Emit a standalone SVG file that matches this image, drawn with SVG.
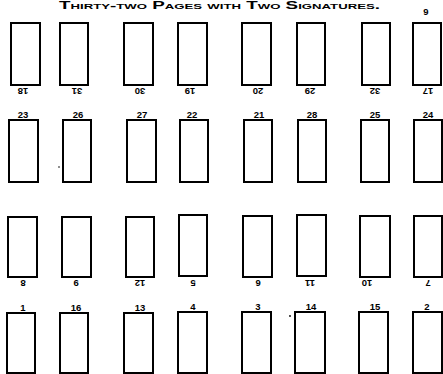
<svg xmlns="http://www.w3.org/2000/svg" width="443" height="374" viewBox="0 0 443 374">
<style>
.pg{fill:#fff;stroke:#000;stroke-width:2}
.n{font-family:"Liberation Sans",Arial,sans-serif;font-weight:bold;font-size:9.5px;text-anchor:middle;fill:#000}
.t{font-family:"Liberation Sans",Arial,sans-serif;font-weight:bold;font-size:10px;font-variant:small-caps;fill:#000}
</style>
<rect width="443" height="374" fill="#fff"/>
<text class="t" x="59" y="8.5" textLength="321" lengthAdjust="spacingAndGlyphs">Thirty-two Pages with Two Signatures.</text>
<text class="n" x="426" y="14.5">9</text>
<g id="row1">
<g id="p18"><rect class="pg" x="11" y="23" width="29" height="62"/><text class="n" x="23" y="95" transform="rotate(180 23 91.5)">18</text></g>
<g id="p31"><rect class="pg" x="60" y="23" width="28" height="62"/><text class="n" x="77" y="95" transform="rotate(180 77 91.5)">31</text></g>
<g id="p30"><rect class="pg" x="124" y="23" width="29" height="62"/><text class="n" x="140" y="95" transform="rotate(180 140 91.5)">30</text></g>
<g id="p19"><rect class="pg" x="178" y="23" width="29" height="62"/><text class="n" x="190" y="95" transform="rotate(180 190 91.5)">19</text></g>
<g id="p20"><rect class="pg" x="242" y="23" width="29" height="62"/><text class="n" x="258" y="95" transform="rotate(180 258 91.5)">20</text></g>
<g id="p29"><rect class="pg" x="297" y="23" width="28" height="62"/><text class="n" x="310" y="95" transform="rotate(180 310 91.5)">29</text></g>
<g id="p32"><rect class="pg" x="362" y="23" width="28" height="62"/><text class="n" x="375" y="95" transform="rotate(180 375 91.5)">32</text></g>
<g id="p17"><rect class="pg" x="413" y="23" width="28" height="62"/><text class="n" x="428" y="95" transform="rotate(180 428 91.5)">17</text></g>
</g>
<g id="row2">
<g id="p23"><rect class="pg" x="9" y="120" width="29" height="62"/><text class="n" x="23" y="118">23</text></g>
<g id="p26"><rect class="pg" x="63" y="120" width="28" height="62"/><text class="n" x="78" y="118">26</text></g>
<g id="p27"><rect class="pg" x="127" y="120" width="29" height="62"/><text class="n" x="142" y="118">27</text></g>
<g id="p22"><rect class="pg" x="180" y="120" width="28" height="62"/><text class="n" x="192" y="118">22</text></g>
<g id="p21"><rect class="pg" x="244" y="120" width="28" height="62"/><text class="n" x="259" y="118">21</text></g>
<g id="p28"><rect class="pg" x="298" y="120" width="28" height="62"/><text class="n" x="312" y="118">28</text></g>
<g id="p25"><rect class="pg" x="361" y="120" width="28" height="62"/><text class="n" x="375" y="118">25</text></g>
<g id="p24"><rect class="pg" x="414" y="120" width="28" height="62"/><text class="n" x="428" y="118">24</text></g>
</g>
<g id="row3">
<g id="p8"><rect class="pg" x="8" y="217" width="29" height="60"/><text class="n" x="23" y="287" transform="rotate(180 23 283.5)">8</text></g>
<g id="p9"><rect class="pg" x="62" y="217" width="29" height="60"/><text class="n" x="76" y="287" transform="rotate(180 76 283.5)">9</text></g>
<g id="p12"><rect class="pg" x="126" y="217" width="28" height="60"/><text class="n" x="140" y="287" transform="rotate(180 140 283.5)">12</text></g>
<g id="p5"><rect class="pg" x="179" y="215" width="28" height="61"/><text class="n" x="193" y="287" transform="rotate(180 193 283.5)">5</text></g>
<g id="p6"><rect class="pg" x="243" y="216" width="29" height="61"/><text class="n" x="258" y="287" transform="rotate(180 258 283.5)">6</text></g>
<g id="p11"><rect class="pg" x="297" y="215" width="29" height="61"/><text class="n" x="310" y="287" transform="rotate(180 310 283.5)">11</text></g>
<g id="p10"><rect class="pg" x="360" y="216" width="30" height="61"/><text class="n" x="367" y="287" transform="rotate(180 367 283.5)">10</text></g>
<g id="p7"><rect class="pg" x="414" y="216" width="28" height="61"/><text class="n" x="428" y="287" transform="rotate(180 428 283.5)">7</text></g>
</g>
<g id="row4">
<g id="p1"><rect class="pg" x="7" y="313" width="28" height="60"/><text class="n" x="23" y="311">1</text></g>
<g id="p16"><rect class="pg" x="60" y="313" width="28" height="60"/><text class="n" x="76" y="311">16</text></g>
<g id="p13"><rect class="pg" x="124" y="313" width="29" height="60"/><text class="n" x="140" y="311">13</text></g>
<g id="p4"><rect class="pg" x="178" y="312" width="29" height="61"/><text class="n" x="193" y="310">4</text></g>
<g id="p3"><rect class="pg" x="242" y="312" width="29" height="61"/><text class="n" x="258" y="310">3</text></g>
<g id="p14"><rect class="pg" x="295" y="312" width="30" height="61"/><text class="n" x="311" y="310">14</text></g>
<g id="p15"><rect class="pg" x="359" y="312" width="29" height="61"/><text class="n" x="375" y="310">15</text></g>
<g id="p2"><rect class="pg" x="413" y="312" width="29" height="61"/><text class="n" x="427" y="310">2</text></g>
</g>
<g id="connectors"/>
<circle cx="59" cy="167" r="0.8" fill="#000"/>
<circle cx="290" cy="316" r="0.9" fill="#000"/>
</svg>
